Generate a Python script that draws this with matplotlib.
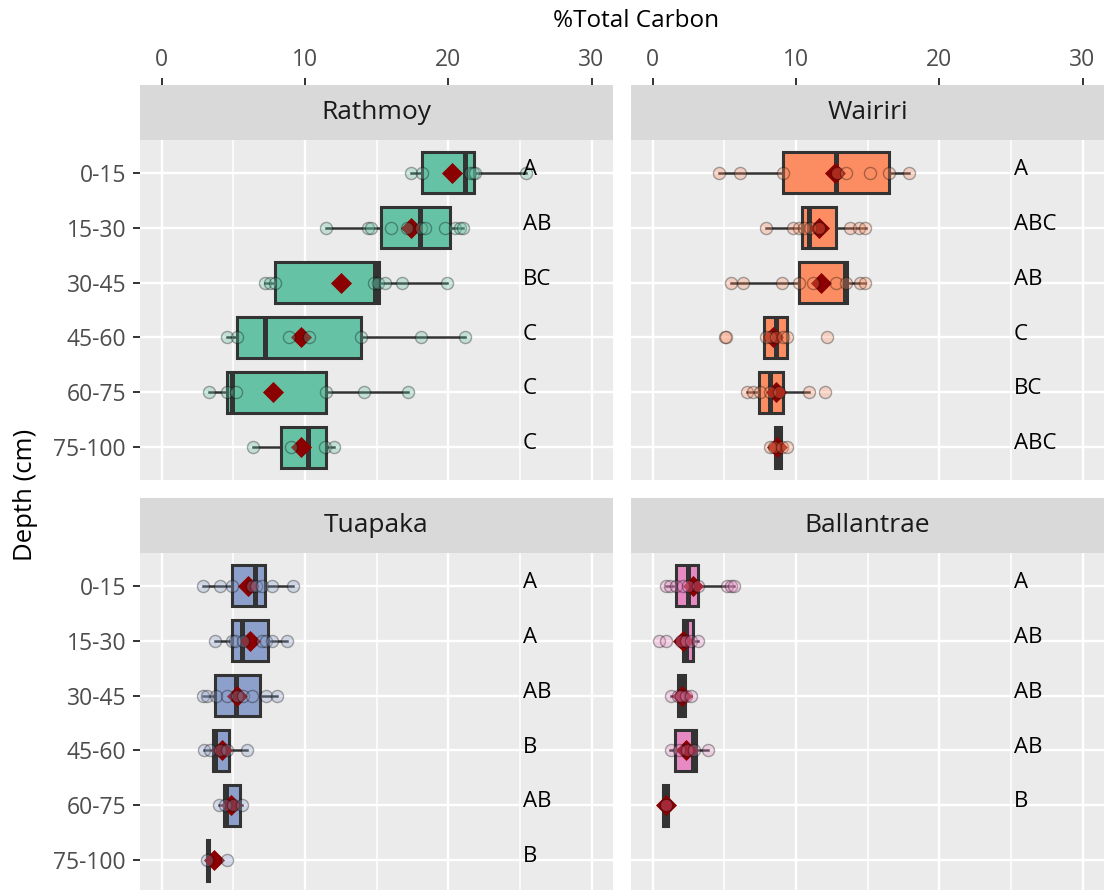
import matplotlib
matplotlib.use("Agg")
import matplotlib.pyplot as plt
from matplotlib.colors import to_rgba

plt.rcParams["font.family"] = ["Open Sans", "DejaVu Sans"]

# ---------------------------------------------------------------- data
depths = ["0-15", "15-30", "30-45", "45-60", "60-75", "75-100"]
sites = ["Rathmoy", "Wairiri", "Tuapaka", "Ballantrae"]
site_colors = ["#66C2A5", "#FC8D62", "#8DA0CB", "#E78AC3"]

# box statistics per depth (%Total Carbon)
rathmoy_q1 = [18.2, 15.3, 7.9, 5.3, 4.6, 8.35]
rathmoy_med = [21.2, 18.0, 14.9, 7.2, 4.9, 10.2]
rathmoy_q3 = [21.8, 20.1, 15.2, 13.9, 11.5, 11.45]
rathmoy_lo = [17.4, 11.5, 7.2, 4.6, 3.3, 6.4]
rathmoy_hi = [25.4, 21.0, 19.9, 21.2, 17.2, 12.0]
rathmoy_mean = [20.3, 17.4, 12.5, 9.7, 7.8, 9.7]
rathmoy_obs = [
    [17.4, 18.2, 21.5, 21.7, 21.9, 25.4],
    [11.5, 14.4, 14.6, 16.0, 17.1, 18.1, 18.4, 19.8, 20.5, 20.8, 21.0],
    [7.2, 7.6, 7.9, 14.8, 15.1, 15.6, 16.8, 19.9],
    [4.6, 5.3, 8.9, 10.3, 13.9, 18.1, 21.2],
    [3.3, 4.6, 5.2, 11.5, 14.1, 17.2],
    [6.4, 9.0, 11.4, 12.0],
]
rathmoy_letters = ["A", "AB", "BC", "C", "C", "C"]

wairiri_q1 = [9.1, 10.4, 10.2, 7.8, 7.4, 8.55]
wairiri_med = [12.8, 10.9, 13.4, 8.6, 8.2, 8.75]
wairiri_q3 = [16.5, 12.8, 13.6, 9.35, 9.1, 8.95]
wairiri_lo = [4.65, 7.9, 5.5, 7.8, 6.6, 8.55]
wairiri_hi = [17.9, 14.9, 14.8, 9.35, 10.9, 8.95]
wairiri_mean = [12.7, 11.6, 11.75, 8.4, 8.6, 8.7]
wairiri_obs = [
    [4.65, 6.1, 9.1, 12.9, 13.5, 15.2, 16.5, 17.9],
    [7.9, 9.8, 10.2, 10.6, 11.0, 11.6, 13.8, 14.4, 14.8],
    [5.5, 6.3, 9.0, 10.2, 11.2, 12.8, 13.5, 14.5, 14.8],
    [5.05, 5.1, 7.9, 8.2, 8.6, 9.1, 9.4, 12.2],
    [6.6, 7.0, 7.5, 8.2, 8.8, 10.9, 12.0],
    [8.2, 8.5, 9.0, 9.4],
]
wairiri_letters = ["A", "ABC", "AB", "C", "BC", "ABC"]

tuapaka_q1 = [4.95, 4.9, 3.7, 3.6, 4.35, 3.18]
tuapaka_med = [6.5, 5.6, 5.2, 3.75, 4.5, 3.25]
tuapaka_q3 = [7.2, 7.4, 6.9, 4.7, 5.5, 3.3]
tuapaka_lo = [2.9, 3.75, 2.9, 2.95, 4.0, 3.18]
tuapaka_hi = [9.15, 8.75, 8.05, 5.95, 5.6, 3.3]
tuapaka_mean = [6.0, 6.15, 5.25, 4.2, 4.85, 3.65]
tuapaka_obs = [
    [2.9, 4.1, 4.9, 6.3, 6.6, 7.0, 7.7, 9.15],
    [3.75, 4.9, 5.1, 5.7, 7.0, 7.3, 7.7, 8.75],
    [2.9, 3.2, 3.8, 4.6, 5.3, 5.7, 6.3, 7.3, 8.05],
    [2.95, 3.4, 4.1, 4.6, 5.95],
    [4.0, 4.4, 5.0, 5.6],
    [3.2, 4.6],
]
tuapaka_letters = ["A", "A", "AB", "B", "AB", "B"]

ballantrae_q1 = [1.65, 2.15, 1.75, 1.6, 0.75]
ballantrae_med = [2.45, 2.35, 2.0, 2.8, 0.9]
ballantrae_q3 = [3.2, 2.85, 2.3, 3.0, 1.05]
ballantrae_lo = [0.95, 2.15, 1.3, 1.25, 0.75]
ballantrae_hi = [5.7, 3.2, 2.7, 3.85, 1.05]
ballantrae_mean = [2.8, 2.1, 2.05, 2.35, 0.93]
ballantrae_obs = [
    [0.95, 1.2, 1.65, 2.1, 2.5, 3.2, 5.2, 5.45, 5.7],
    [0.45, 0.95, 2.0, 2.35, 2.7, 3.2],
    [1.3, 1.75, 2.0, 2.35, 2.7],
    [1.3, 1.85, 2.4, 2.9, 3.85],
    [0.93],
]
ballantrae_letters = ["A", "AB", "AB", "AB", "B"]

site_data = [
    (rathmoy_q1, rathmoy_med, rathmoy_q3, rathmoy_lo, rathmoy_hi,
     rathmoy_mean, rathmoy_obs, rathmoy_letters),
    (wairiri_q1, wairiri_med, wairiri_q3, wairiri_lo, wairiri_hi,
     wairiri_mean, wairiri_obs, wairiri_letters),
    (tuapaka_q1, tuapaka_med, tuapaka_q3, tuapaka_lo, tuapaka_hi,
     tuapaka_mean, tuapaka_obs, tuapaka_letters),
    (ballantrae_q1, ballantrae_med, ballantrae_q3, ballantrae_lo,
     ballantrae_hi, ballantrae_mean, ballantrae_obs, ballantrae_letters),
]

x_ticks = [0, 10, 20, 30]
x_minor = [5, 15, 25]
letter_x = 25.2

# ---------------------------------------------------------------- layout
W, H = 1104, 890
fig = plt.figure(figsize=(W / 100, H / 100), dpi=100)
fig.patch.set_facecolor("white")


def rect(l, t, r, b):
    return [l / W, 1 - b / H, (r - l) / W, (b - t) / H]


panel_boxes = [(140, 140, 613, 480), (631, 140, 1104, 480),
               (140, 553, 613, 893), (631, 553, 1104, 893)]
strip_boxes = [(140, 85, 613, 140), (631, 85, 1104, 140),
               (140, 497.7, 613, 553), (631, 497.7, 1104, 553)]

XLIM = (-1.5, 31.5)
YLIM = (len(depths) - 0.4, -0.6)
DARK = "#333333"

for k, site in enumerate(sites):
    q1, med, q3, lo, hi, mean, obs, letters = site_data[k]
    color = site_colors[k]
    top_row = k < 2
    left_col = k % 2 == 0

    # strip with the facet name (top-row strips also carry the x axis)
    sax = fig.add_axes(rect(*strip_boxes[k]))
    sax.set_facecolor("#D9D9D9")
    sax.set_xlim(*XLIM)
    sax.set_ylim(0, 1)
    for sp in sax.spines.values():
        sp.set_visible(False)
    sax.set_yticks([])
    sax.text(0.5, 0.5, site, transform=sax.transAxes, ha="center",
             va="center", fontsize=19, color="#1A1A1A")
    if top_row:
        sax.xaxis.tick_top()
        sax.set_xticks(x_ticks)
        sax.set_xticklabels([str(t) for t in x_ticks])
        sax.tick_params(axis="x", length=5, width=1.4, color=DARK,
                        labelcolor="#4D4D4D", labelsize=16.5, pad=4)
    else:
        sax.set_xticks([])

    # panel
    ax = fig.add_axes(rect(*panel_boxes[k]))
    ax.set_facecolor("#EBEBEB")
    for sp in ax.spines.values():
        sp.set_visible(False)

    n = len(q1)
    positions = list(range(n))
    stats = [dict(q1=q1[i], med=med[i], q3=q3[i], whislo=lo[i],
                  whishi=hi[i]) for i in range(n)]
    ax.bxp(stats, positions=positions, orientation="horizontal",
           widths=0.75, patch_artist=True, showfliers=False,
           showcaps=False, manage_ticks=False,
           boxprops=dict(facecolor=color, edgecolor=DARK, linewidth=2.2),
           medianprops=dict(color=DARK, linewidth=3.6,
                            solid_capstyle="butt"),
           whiskerprops=dict(color=DARK, linewidth=1.8),
           zorder=2)

    # group means
    ax.scatter(mean, positions, marker="D", s=115, color="#8B0000",
               linewidths=0, zorder=3)

    # individual observations
    for i in range(n):
        vals = obs[i]
        ax.scatter(vals, [i] * len(vals), s=76,
                   facecolor=to_rgba(color, 0.3),
                   edgecolor=(0, 0, 0, 0.32), linewidths=1.0, zorder=4)

    # significance letters
    for i, lab in enumerate(letters):
        ax.text(letter_x, i - 0.06, lab, ha="left", va="center",
                fontsize=16, color="black", zorder=5)

    ax.set_xlim(*XLIM)
    ax.set_ylim(*YLIM)
    ax.set_xticks(x_ticks)
    ax.set_xticks(x_minor, minor=True)
    ax.set_xticklabels([])
    ax.tick_params(axis="x", which="both", length=0)
    ax.set_yticks(range(len(depths)))
    ax.grid(True, which="major", color="white", linewidth=1.7)
    ax.grid(True, which="minor", axis="x", color="white", linewidth=1.1)
    ax.set_axisbelow(True)
    if left_col:
        ax.set_yticklabels(depths)
        ax.tick_params(axis="y", length=5, width=1.4, color=DARK,
                       labelcolor="#4D4D4D", labelsize=16.5, pad=5)
    else:
        ax.set_yticklabels([])
        ax.tick_params(axis="y", length=0)

fig.text(636 / W, 1 - 21 / H, "%Total Carbon", ha="center", va="center",
         fontsize=17.5, color="black")
fig.text(25 / W, 1 - 495 / H, "Depth (cm)", ha="center", va="center",
         rotation=90, fontsize=18.5, color="black")

fig.savefig("out.png", dpi=100)
